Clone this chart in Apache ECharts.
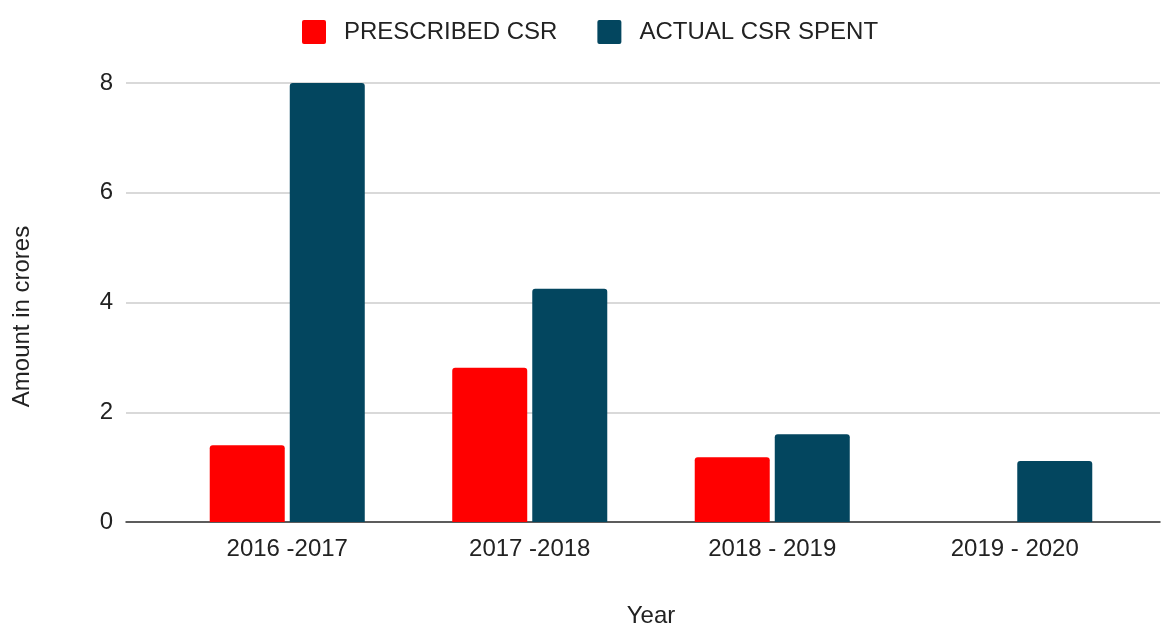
<!DOCTYPE html>
<html>
<head>
<meta charset="utf-8">
<script src="https://cdn.jsdelivr.net/npm/echarts@6/dist/echarts.min.js"></script>
<style>
  html, body { margin: 0; padding: 0; background: #fff; }
  #chart { width: 1161px; height: 625px; }
</style>
</head>
<body>
<div id="chart"></div>
<script>
  // 年份
  const years = ['2016 -2017', '2017 -2018', '2018 - 2019', '2019 - 2020']
  // 规定CSR / 实际CSR (crores)
  const prescribedCsr = [1.40, 2.81, 1.18, 0]
  const actualCsr = [8.0, 4.25, 1.60, 1.11]
  const yTicks = [0, 2, 4, 6, 8]

  const font = 'Liberation Sans, Arial, sans-serif'
  const chart = echarts.init(document.getElementById('chart'))

  const option = {
    animation: false,
    textStyle: { fontFamily: font },
    legend: {
      top: 15,
      left: 297,
      itemWidth: 24,
      itemHeight: 24,
      itemGap: 40,
      icon: 'path://M2,0 L22,0 Q24,0 24,2 L24,22 Q24,24 22,24 L2,24 Q0,24 0,22 L0,2 Q0,0 2,0 Z',
      textStyle: { fontSize: 24, color: '#222', fontFamily: font, padding: [0, 0, 0, 13] },
      data: ['PRESCRIBED CSR', 'ACTUAL CSR SPENT']
    },
    // grid 0: 网格线和y轴, grid 1: 柱子
    grid: [
      { left: 126, right: 1, top: 83, bottom: 103, outerBoundsMode: 'none' },
      { left: 166, right: 25, top: 83, bottom: 103, outerBoundsMode: 'none' }
    ],
    xAxis: [
      {
        gridIndex: 0,
        type: 'category',
        data: [''],
        axisLine: { lineStyle: { color: '#333', width: 1.5 } },
        axisTick: { show: false },
        axisLabel: { show: false }
      },
      {
        gridIndex: 1,
        type: 'category',
        data: years,
        name: 'Year',
        nameLocation: 'middle',
        nameGap: 82,
        nameTextStyle: { fontSize: 24, color: '#222', fontFamily: font },
        axisLine: { show: false },
        axisTick: { show: false },
        axisLabel: { fontSize: 24, color: '#222', margin: 15, fontFamily: font }
      }
    ],
    yAxis: [
      {
        gridIndex: 0,
        type: 'value',
        min: yTicks[0],
        max: yTicks[yTicks.length - 1],
        interval: 2,
        name: 'Amount in crores',
        nameLocation: 'middle',
        nameGap: 92,
        nameTextStyle: { fontSize: 24, color: '#222', fontFamily: font, padding: [0, 28, 0, 0] },
        axisLine: { show: false },
        axisTick: { show: false },
        axisLabel: { fontSize: 24, color: '#222', margin: 13, fontFamily: font },
        splitLine: { lineStyle: { color: '#cccccc', width: 1.5 } }
      },
      {
        gridIndex: 1,
        type: 'value',
        min: yTicks[0],
        max: yTicks[yTicks.length - 1],
        interval: 2,
        show: false,
        splitLine: { show: false }
      }
    ],
    series: [
      {
        name: 'PRESCRIBED CSR',
        type: 'bar',
        xAxisIndex: 1,
        yAxisIndex: 1,
        data: prescribedCsr,
        barWidth: 75,
        barGap: '6.7%',
        itemStyle: { color: '#ff0000', borderRadius: [3, 3, 0, 0] }
      },
      {
        name: 'ACTUAL CSR SPENT',
        type: 'bar',
        xAxisIndex: 1,
        yAxisIndex: 1,
        data: actualCsr,
        barWidth: 75,
        barGap: '6.7%',
        itemStyle: { color: '#03465f', borderRadius: [3, 3, 0, 0] }
      }
    ]
  }
  chart.setOption(option)
</script>
</body>
</html>
